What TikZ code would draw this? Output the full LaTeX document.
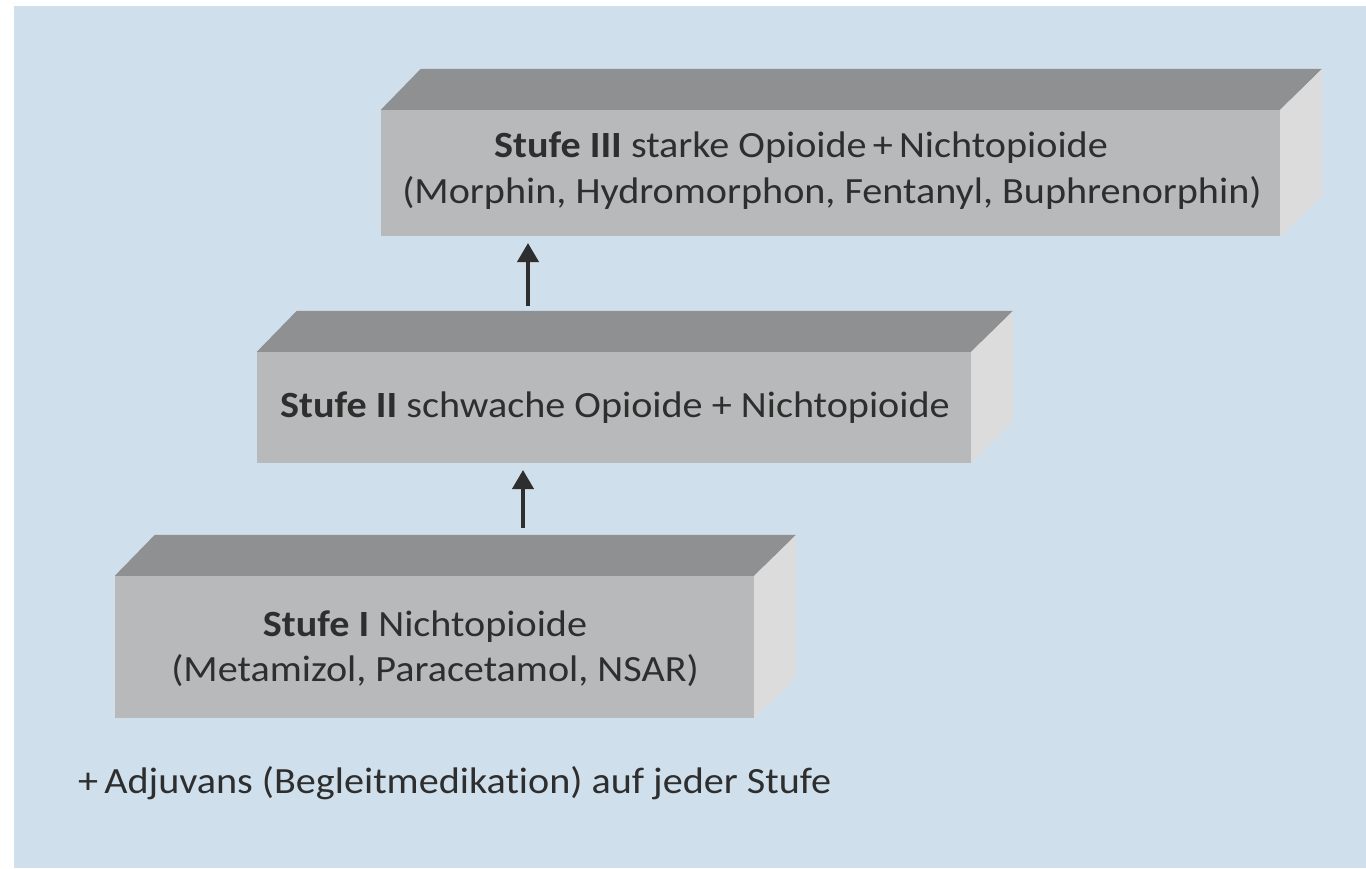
\documentclass[tikz,border=0pt]{standalone}
\usepackage{fontspec}
\setmainfont{Carlito}[FakeStretch=1.085, Ligatures=NoCommon]
\usetikzlibrary{calc,arrows.meta}
\definecolor{bgblue}{HTML}{CFE0EC}
\definecolor{frontc}{HTML}{B8B9BA}
\definecolor{topc}{HTML}{8F9091}
\definecolor{sidec}{HTML}{DCDCDC}
\definecolor{txt}{HTML}{2E2E2E}
\tikzset{
  front/.style={fill=frontc, draw=none, inner sep=0pt},
  lbl/.style={text=txt, font=\fontsize{37}{40}\selectfont, inner sep=0pt, anchor=center},
  uparrow/.style={-{Triangle[length=19pt,width=21pt]}, line width=4pt, draw=txt},
}
\newcommand{\cuboid}[1]{%
  \fill[topc] (#1.north west) -- ($(#1.north west)+(40,-41)$) -- ($(#1.north east)+(42,-41)$) -- (#1.north east) -- cycle;
  \fill[sidec] (#1.north east) -- ($(#1.north east)+(42,-41)$) -- ($(#1.south east)+(42,-41)$) -- (#1.south east) -- cycle;
}
\begin{document}
\begin{tikzpicture}[x=1pt,y=-1pt]
  \useasboundingbox (0,0) rectangle (1366,868);
  \fill[white] (0,0) rectangle (1366,868);
  \fill[bgblue] (14,6) rectangle (1366,868);

  % Stufe III
  \node[front, minimum width=899pt, minimum height=126pt] (b3) at (830.5,173) {};
  \cuboid{b3}
  \node[lbl] (t3a) at (801,148) {\textbf{Stufe III} starke Opioide\,+\,Nichtopioide};
  \node[lbl] (t3b) at (832,193) {(Morphin, Hydromorphon, Fentanyl, Buphrenorphin)};

  % Stufe II
  \node[front, minimum width=714pt, minimum height=111pt] (b2) at (614,407.5) {};
  \cuboid{b2}
  \node[lbl] (t2) at (615,408) {\textbf{Stufe II} schwache Opioide + Nichtopioide};

  % Stufe I
  \node[front, minimum width=639pt, minimum height=142pt] (b1) at (434.5,647) {};
  \cuboid{b1}
  \node[lbl] (t1a) at (425,627) {\textbf{Stufe I} Nichtopioide};
  \node[lbl] (t1b) at (435,671) {(Metamizol, Paracetamol, NSAR)};

  % arrows
  \coordinate (a2e) at (528,243);
  \coordinate (a2s) at (528,306);
  \coordinate (a1e) at (523,470);
  \coordinate (a1s) at (523,528);
  \draw[uparrow] (a2s) -- (a2e);
  \draw[uparrow] (a1s) -- (a1e);

  % bottom note
  \node[lbl, anchor=west] (note) at (78,783) {+\,Adjuvans (Begleitmedikation) auf jeder Stufe};
\end{tikzpicture}
\end{document}
